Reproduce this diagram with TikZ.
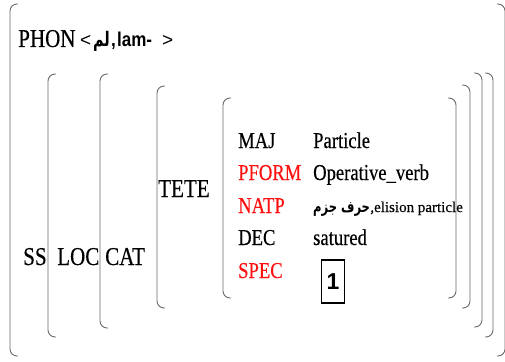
\documentclass[tikz,border=0pt]{standalone}
\usepackage{fontspec}
\setmainfont{Liberation Serif}
\newfontfamily\condserif[FakeStretch=0.82,FakeBold=0.35]{Liberation Serif}
\newfontfamily\smallserif[FakeBold=0.3]{Liberation Serif}
\newfontfamily\condsans[FakeStretch=0.85]{Liberation Sans}
\newfontfamily\plainsans{Liberation Sans}
\newfontfamily\arabicfont[Script=Arabic,FakeStretch=0.72]{DejaVu Sans}
\TeXXeTstate=1
\definecolor{brackgray}{HTML}{6A6A6A}
\definecolor{featred}{HTML}{FF1010}
\begin{document}
\begin{tikzpicture}[x=1pt,y=-1pt,
  brk/.style={draw=brackgray,line width=0.9pt,rounded corners=7pt},
  txt/.style={inner sep=0pt,anchor=base west},
  big/.style={txt,font=\condserif\fontsize{25.7}{30}\selectfont},
  feat/.style={txt,font=\condserif\fontsize{22.7}{27}\selectfont},
  redfeat/.style={feat,text=featred},
  phonsym/.style={txt,font=\plainsans\fontsize{19}{22}\selectfont},
  phonbold/.style={txt,font=\condsans\bfseries\fontsize{20}{24}\selectfont},
  tagbox/.style={draw=black,line width=1.5pt,inner sep=0pt,
    minimum width=23pt,minimum height=43pt,
    font=\plainsans\bfseries\fontsize{23}{28}\selectfont}]
\useasboundingbox (0,0) rectangle (505,361);

% nested attribute-value brackets: left halves
\draw[brk] (18,4)   -- (10,4)   -- (10,356)  -- (18,356);
\draw[brk] (56,74)  -- (48,74)  -- (48,337)  -- (56,337);
\draw[brk] (108,74) -- (100,74) -- (100,328) -- (108,328);
\draw[brk] (165,86) -- (157,86) -- (157,308) -- (165,308);
\draw[brk] (231,98) -- (223,98) -- (223,298) -- (231,298);
% right halves
\draw[brk] (448,98) -- (456,98) -- (456,298) -- (448,298);
\draw[brk] (462,85) -- (470,85) -- (470,308) -- (462,308);
\draw[brk] (474,73) -- (482,73) -- (482,327) -- (474,327);
\draw[brk] (485,73) -- (493,73) -- (493,337) -- (485,337);
\draw[brk] (497,4)  -- (505,4)  -- (505,356) -- (497,356);

% PHON line
\node[big] (phon) at (18,47) {PHON};
\node[phonsym] (lt) at (80,47) {<};
\node[txt,font=\arabicfont\bfseries\fontsize{20}{24}\selectfont] (phonar) at (93,47) {\beginR لم\endR};
\node[phonbold] (comma) at (111,47) {,};
\node[phonbold] (lam) at (117,47) {lam-};
\node[phonsym] (gt) at (162,47) {>};

% path labels
\node[big] (ss) at (23,265) {SS};
\node[big] (loc) at (57,265) {LOC};
\node[big] (cat) at (105,265) {CAT};
\node[big] (tete) at (158,197) {TETE};

% innermost feature structure
\node[feat] (maj) at (238,148) {MAJ};
\node[redfeat] (pform) at (238,180) {PFORM};
\node[redfeat] (natp) at (238,213) {NATP};
\node[feat] (dec) at (238,245) {DEC};
\node[redfeat] (spec) at (238,278) {SPEC};

\node[feat] (vmaj) at (313,148) {Particle};
\node[feat] (vpform) at (313,180) {Operative\_verb};
\node[txt,font=\arabicfont\bfseries\fontsize{16}{20}\selectfont] (vnatpar) at (313,212) {\beginR حرف جزم\endR};
\node[txt,font=\smallserif\fontsize{15}{18}\selectfont] (vnatp) at (vnatpar.base east) {,elision particle};
\node[feat] (vdec) at (313,245) {satured};
\node[tagbox] (tag) at (333,281.5) {1};
\end{tikzpicture}
\end{document}
